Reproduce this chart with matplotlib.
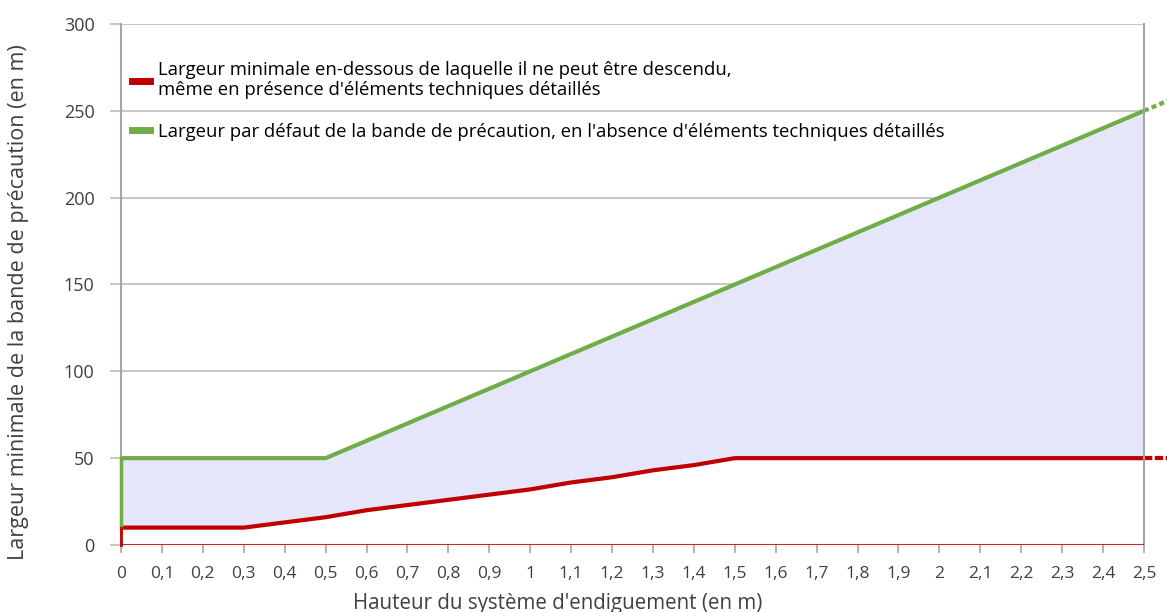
import numpy as np
import matplotlib.pyplot as plt
from matplotlib.lines import Line2D

# hauteur du système d'endiguement (m)
hauteur = [0, 0.1, 0.2, 0.3, 0.4, 0.5, 0.6, 0.7, 0.8, 0.9, 1.0, 1.1, 1.2, 1.3,
           1.4, 1.5, 1.6, 1.7, 1.8, 1.9, 2.0, 2.1, 2.2, 2.3, 2.4, 2.5]
largeur_min = [10, 10, 10, 10, 13, 16, 20, 23, 26, 29, 32, 36, 39, 43,
               46, 50, 50, 50, 50, 50, 50, 50, 50, 50, 50, 50]
largeur_defaut = [50, 50, 50, 50, 50, 50, 60, 70, 80, 90, 100, 110, 120, 130,
                  140, 150, 160, 170, 180, 190, 200, 210, 220, 230, 240, 250]

# prolongement en pointillés au-delà de 2,5 m
ext_x = [2.5, 2.56]
ext_min = [50, 50]
ext_defaut = [250, 256]

xticks = [round(0.1 * i, 1) for i in range(26)]
xtick_labels = [('%g' % v).replace('.', ',') for v in xticks]
yticks = [0, 50, 100, 150, 200, 250, 300]

label_min = "Largeur minimale en-dessous de laquelle il ne peut être descendu,\nmême en présence d'éléments techniques détaillés"
label_def = "Largeur par défaut de la bande de précaution, en l'absence d'éléments techniques détaillés"

red = '#C00000'
green = '#70AD47'
grid = '#C8C8C8'

plt.rcParams['font.family'] = ['Open Sans', 'DejaVu Sans']

fig = plt.figure(figsize=(11.67, 6.12), dpi=100)
ax = fig.add_axes([0.1037, 0.1095, 0.8766, 0.8513])

ax.fill_between(hauteur, largeur_min, largeur_defaut, color='#E6E6FA', lw=0)
ax.plot(hauteur, largeur_defaut, color=green, lw=3, solid_capstyle='butt')
ax.plot(hauteur, largeur_min, color=red, lw=3, solid_capstyle='butt')
ax.plot([0, 0], [largeur_min[0], largeur_defaut[0]], color=green, lw=2.5,
        clip_on=False, zorder=4)
ax.plot([0, 0], [0, largeur_min[0]], color=red, lw=2, clip_on=False, zorder=4)
ax.axhline(0, color=red, lw=1.5, alpha=0.8, zorder=3)

ax.plot(ext_x, ext_min, color=red, lw=3, ls=(0, (2, 0.6)), clip_on=False)
ax.plot(ext_x, ext_defaut, color=green, lw=3, ls=(0, (1.2, 0.8)), clip_on=False)

ax.set_xlim(0, 2.5)
ax.set_ylim(0, 300)
ax.set_xticks(xticks)
ax.set_xticklabels(xtick_labels)
ax.set_yticks(yticks)
ax.yaxis.grid(True, color=grid, lw=1.5)
ax.set_axisbelow(True)

for s in ['left', 'right']:
    ax.spines[s].set_color('#A6A6A6')
    ax.spines[s].set_linewidth(1.5)
ax.spines['top'].set_visible(False)
ax.spines['bottom'].set_visible(False)

ax.tick_params(axis='x', colors='#A6A6A6', length=6, width=1.2, labelcolor='#404040',
               labelsize=12.5, pad=9)
ax.tick_params(axis='y', colors=grid, length=8, width=1.5, labelcolor='#404040',
               labelsize=13, pad=11)

ax.set_xlabel("Hauteur du système d'endiguement (en m)", fontsize=14.8, color='#404040')
ax.xaxis.set_label_coords(0.427, -0.092)
ax.set_ylabel("Largeur minimale de la bande de précaution (en m)", fontsize=15.5, color='#404040')
ax.yaxis.set_label_coords(-0.09, 0.466)

handles = [Line2D([], [], color=red, lw=5), Line2D([], [], color=green, lw=5)]
leg = ax.legend(handles, [label_min, label_def], loc='upper left',
                bbox_to_anchor=(-0.006, 0.96), frameon=False, fontsize=13.3,
                handlelength=1.0, handletextpad=0.45, labelspacing=1.3)
for t in leg.get_texts():
    t.set_linespacing(1.1)

fig.savefig('out.png', dpi=100)
